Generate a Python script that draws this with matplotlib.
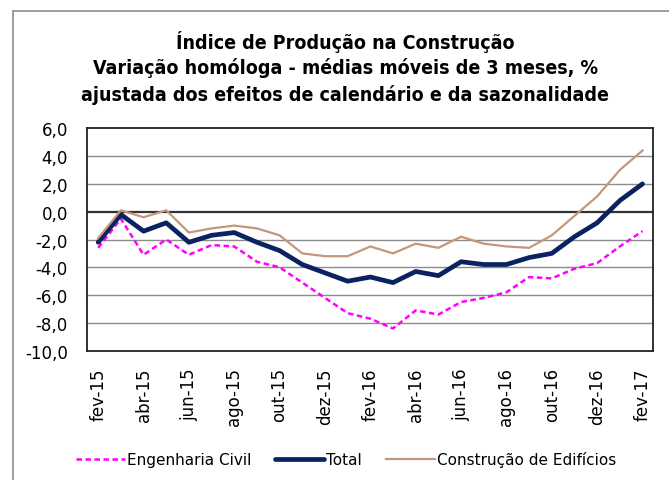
import matplotlib.pyplot as plt
from matplotlib.patches import Rectangle

months = ["fev-15", "mar-15", "abr-15", "mai-15", "jun-15", "jul-15", "ago-15", "set-15",
          "out-15", "nov-15", "dez-15", "jan-16", "fev-16", "mar-16", "abr-16", "mai-16",
          "jun-16", "jul-16", "ago-16", "set-16", "out-16", "nov-16", "dez-16", "jan-17", "fev-17"]

eng_civil = [-2.6, -0.5, -3.1, -2.0, -3.1, -2.4, -2.5, -3.6, -4.0, -5.1, -6.2, -7.3, -7.7,
             -8.4, -7.1, -7.4, -6.5, -6.2, -5.8, -4.7, -4.8, -4.1, -3.7, -2.5, -1.4]
total = [-2.2, -0.2, -1.4, -0.8, -2.2, -1.7, -1.5, -2.2, -2.8, -3.8, -4.4, -5.0, -4.7,
         -5.1, -4.3, -4.6, -3.6, -3.8, -3.8, -3.3, -3.0, -1.8, -0.8, 0.8, 2.0]
edificios = [-1.9, 0.1, -0.4, 0.1, -1.5, -1.2, -1.0, -1.2, -1.7, -3.0, -3.2, -3.2, -2.5,
             -3.0, -2.3, -2.6, -1.8, -2.3, -2.5, -2.6, -1.7, -0.3, 1.1, 3.0, 4.4]

yticks = [6, 4, 2, 0, -2, -4, -6, -8, -10]

fig = plt.figure(figsize=(6.69, 4.81), dpi=100)
ax = fig.add_axes([87.3/669, 1-351.7/481, (652.7-87.3)/669, (351.7-129.3)/481])

x = list(range(len(months)))
ax.plot(x, eng_civil, color="#FF00FF", linestyle=(0, (2.2, 1.4)), linewidth=1.8, label="Engenharia Civil")
ax.plot(x, total, color="#0B2260", linewidth=3.4, label="Total", solid_capstyle="round")
ax.plot(x, edificios, color="#C4967A", linewidth=1.6, label="Construção de Edifícios")

ax.set_xlim(-0.48, 24.45)
ax.set_ylim(-10, 6)
ax.set_yticks(yticks)
ax.set_yticklabels([f"{v:.1f}".replace(".", ",") for v in yticks], fontsize=12)
ax.set_xticks(x[::2])
ax.set_xticklabels(months[::2], rotation=90, fontsize=12)
ax.tick_params(length=0)
ax.tick_params(axis="y", pad=14)
ax.tick_params(axis="x", pad=12)

for v in yticks:
    if v == 0:
        ax.axhline(v, color="#333333", linewidth=1.6, zorder=1)
    elif v not in (6, -10):
        ax.axhline(v, color="#8C8C8C", linewidth=1, zorder=1)
for s in ax.spines.values():
    s.set_color("#222222")
    s.set_linewidth(1.3)

title_lines = ["Índice de Produção na Construção",
               "Variação homóloga - médias móveis de 3 meses, %",
               "ajustada dos efeitos de calendário e da sazonalidade"]
for line, ypix in zip(title_lines, [42, 68, 95]):
    fig.text(0.516, 1-ypix/481, line, ha="center", va="center",
             fontsize=14, fontweight="bold", fontstretch="condensed")

fig.legend(loc="center", bbox_to_anchor=(346/669, 1-460/481), ncol=3, frameon=False,
           fontsize=11, handlelength=3.2, handletextpad=0.1, columnspacing=1.6)

fig.patches.append(Rectangle((13/669, -0.1), 2, 1.1 - 12/481, transform=fig.transFigure,
                             fill=False, edgecolor="#8C8C8C", linewidth=1.2))

fig.savefig("out.png", dpi=100)
